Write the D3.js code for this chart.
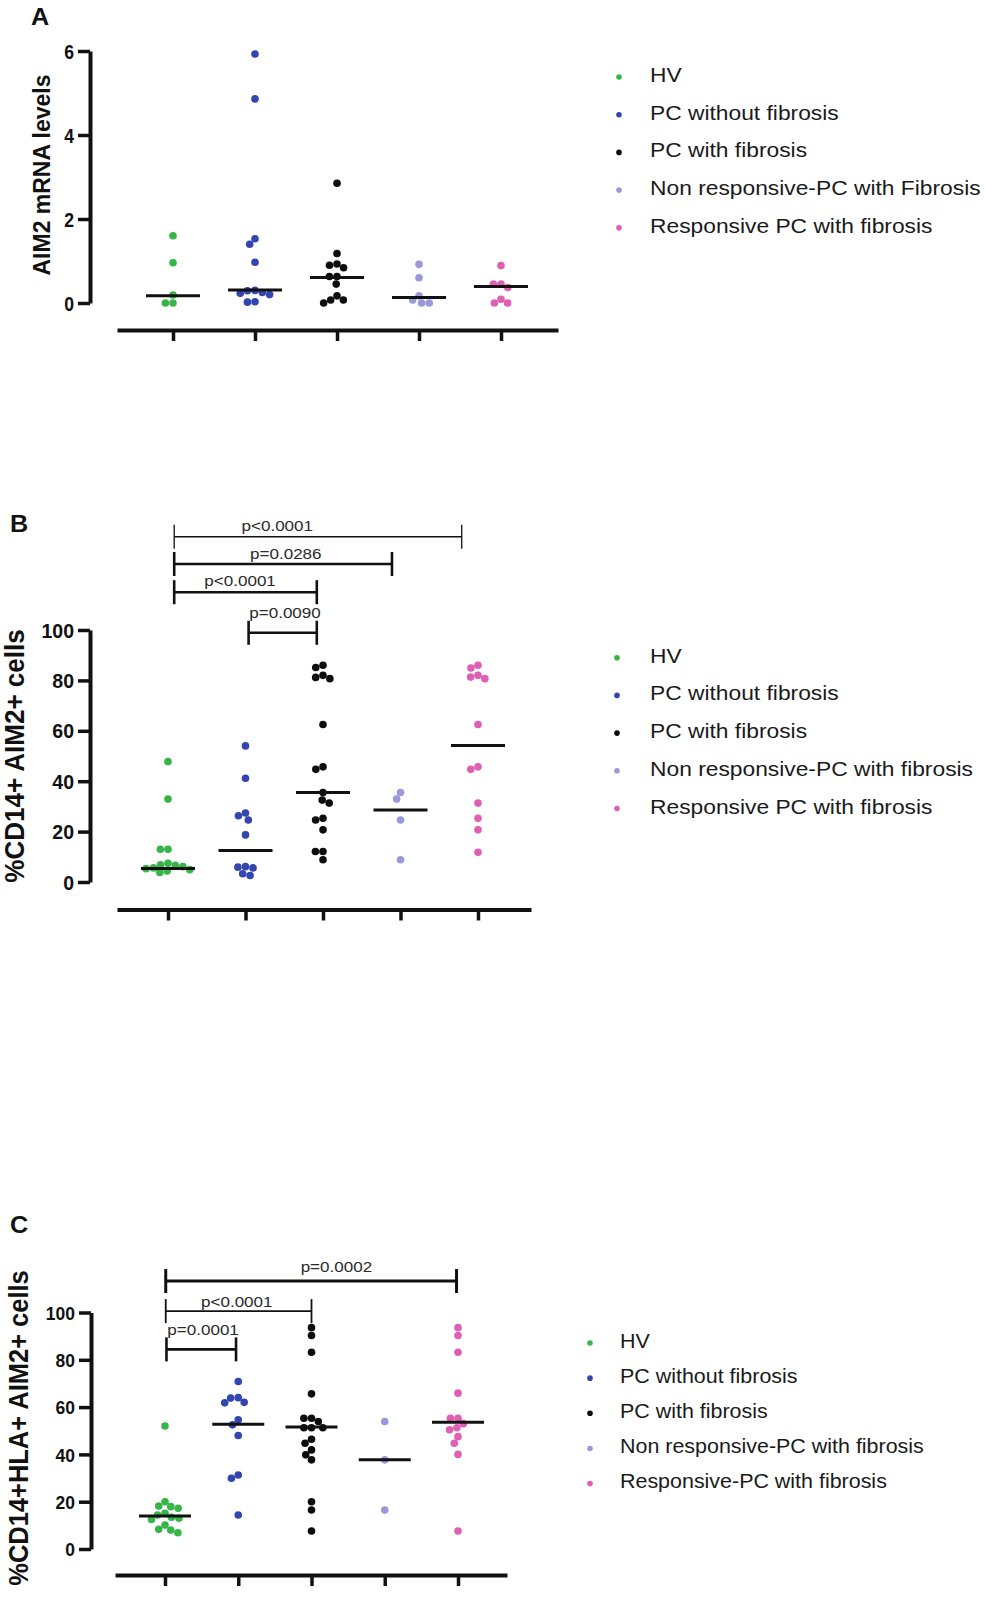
<!DOCTYPE html>
<html>
<head>
<meta charset="utf-8">
<script src="https://cdn.jsdelivr.net/npm/d3@7"></script>
<style>
  body { margin: 0; background: #fff; }
  svg { display: block; }
  text { font-family: "Liberation Sans", Arial, sans-serif; }
</style>
</head>
<body>
<div id="fig"></div>
<script>
// groups and legend texts (each panel words them slightly differently)
const legendA = ["HV", "PC without fibrosis", "PC with fibrosis", "Non responsive-PC with Fibrosis", "Responsive PC with fibrosis"];
const legendB = ["HV", "PC without fibrosis", "PC with fibrosis", "Non responsive-PC with fibrosis", "Responsive PC with fibrosis"];
const legendC = ["HV", "PC without fibrosis", "PC with fibrosis", "Non responsive-PC with fibrosis", "Responsive-PC with fibrosis"];
const colors = ["#37b548", "#3346b0", "#0d0d0d", "#9c98dc", "#de5fb4"];

// A: AIM2 mRNA levels
const valuesA = [
  [1.6, 0.96, 0.19, 0.0, 0.0],
  [5.93, 4.86, 1.53, 1.4, 0.97, 0.3, 0.29, 0.25, 0.23, 0.2, 0.03, 0.02],
  [2.85, 1.18, 0.93, 0.9, 0.84, 0.63, 0.63, 0.45, 0.17, 0.07, 0.07, 0.0],
  [0.92, 0.6, 0.17, 0.07, 0.0, 0.0],
  [0.89, 0.45, 0.45, 0.37, 0.09, 0.0, 0.0]
];
const mediansA = [0.17, 0.31, 0.61, 0.13, 0.39];
const ticksA = [0, 2, 4, 6];

// B: %CD14+ AIM2+ cells
const valuesB = [
  [47.8, 32.9, 13, 13, 7.4, 6.8, 6.6, 6.1, 5.6, 5.3, 4.9, 4.4, 3.8],
  [54, 41.2, 27.4, 26.3, 24.6, 18.7, 6.1, 5.9, 5.6, 3.3, 2.6],
  [86, 85.1, 82, 81.2, 80.7, 62.5, 45.7, 44.7, 35.5, 32.5, 31.3, 25.3, 24.6, 20.7, 12.1, 12.1, 8.8],
  [35.5, 32.9, 24.6, 8.8],
  [86, 84.9, 82, 81.3, 80.7, 62.5, 45.7, 44.7, 31.3, 25.3, 20.7, 11.8]
];
const mediansB = [5.4, 12.5, 35.5, 28.6, 54.2];
const ticksB = [0, 20, 40, 60, 80, 100];
const bracketsB = [
  {from: 0.08, to: 3.79, level: 137, label: "p<0.0001", labelAt: 1.41, labelLevel: 139.3},
  {from: 0.08, to: 2.89, level: 126.2, label: "p=0.0286", labelAt: 1.52, labelLevel: 128.2},
  {from: 0.08, to: 1.92, level: 115, label: "p<0.0001", labelAt: 0.93, labelLevel: 117.6},
  {from: 1.04, to: 1.92, level: 98.9, label: "p=0.0090", labelAt: 1.51, labelLevel: 104.6}
];

// C: %CD14+HLA+ AIM2+ cells
const valuesC = [
  [52, 20, 18.2, 17.9, 17.2, 15.1, 14.4, 13.4, 13, 12.5, 10.1, 8.3, 8, 6.9],
  [70.8, 64, 63.8, 62, 61.8, 54.6, 52.5, 48, 31.3, 29.9, 14.4],
  [93.6, 90.3, 83.2, 65.6, 55.3, 55.3, 53.9, 51.3, 51.3, 51.3, 46.4, 44.7, 41.9, 39.8, 37.7, 20, 16.5, 7.6],
  [53.9, 37.7, 16.5],
  [93.6, 90.3, 83.2, 65.9, 55.3, 55.3, 53, 51.3, 50.4, 47.5, 44.7, 40, 7.6]
];
const mediansC = [14, 52.7, 51.6, 37.7, 53.6];
const ticksC = [0, 20, 40, 60, 80, 100];
const bracketsC = [
  {from: 0.01, to: 3.98, level: 113.3, label: "p=0.0002", labelAt: 2.34, labelLevel: 117.3},
  {from: 0.01, to: 2.0, level: 100.6, label: "p<0.0001", labelAt: 0.98, labelLevel: 102.5},
  {from: 0.02, to: 0.97, level: 84.4, label: "p=0.0001", labelAt: 0.52, labelLevel: 90.5}
];

// ---------------------------------------------------------------
const W = 985, H = 1599;
const FONT = '"Liberation Sans", Arial, sans-serif';
const svg = d3.select("#fig").append("svg")
  .attr("width", W).attr("height", H);

const R = 3.8, D = 7.6;   // dot radius, collision distance
const SX = 1.12;           // the figure is a bit stretched sideways

// place text, stretched horizontally like the source image
function stretchText(g, x, y, str, size, opts = {}) {
  const t = g.append("g")
    .attr("transform", `translate(${x},${y}) scale(${opts.sx || SX},1)` + (opts.rotate ? " rotate(-90)" : ""))
    .append("text")
    .attr("font-family", FONT)
    .attr("text-anchor", opts.anchor || "start")
    .attr("font-size", size)
    .attr("font-weight", opts.bold ? "bold" : "normal")
    .attr("fill", opts.fill || "#111")
    .text(str);
  if (opts.dy) t.attr("dy", opts.dy);
  return t;
}

// simple beeswarm: each dot goes as close to the centre as it can without overlap
function swarm(vals, y) {
  const pts = vals.map(v => ({v: v, y: y(v)})).sort((a, b) => a.y - b.y);
  const placed = [];
  pts.forEach(p => {
    const blocks = placed.filter(q => Math.abs(q.y - p.y) < D).map(q => {
      const w = Math.sqrt(D * D - (q.y - p.y) ** 2);
      return [q.dx - w, q.dx + w];
    });
    const cands = [0].concat(blocks.flat()).sort((a, b) => Math.abs(a) - Math.abs(b) || a - b);
    p.dx = cands.find(c => blocks.every(b => c <= b[0] + 1e-6 || c >= b[1] - 1e-6));
    placed.push(p);
  });
  return pts;
}

function drawPanel(c) {
  const g = svg.append("g");
  const y = d3.scaleLinear().domain(c.yDomain).range(c.yRange);
  const x = d3.scaleLinear().domain([0, 4]).range(c.cats);

  // panel letter
  stretchText(g, c.letterPos[0], c.letterPos[1], c.letter, 24, {bold: true, sx: 1.05});

  // y axis
  const ya = g.append("g")
    .attr("transform", `translate(${c.axisX},0)`)
    .call(d3.axisLeft(y).tickValues(c.ticks).tickSize(12).tickSizeOuter(0));
  ya.select(".domain").attr("stroke", "#111").attr("stroke-width", 4);
  ya.selectAll(".tick line").attr("stroke", "#111").attr("stroke-width", 3.5);
  ya.selectAll(".tick text").remove();
  ya.selectAll(".tick").each(function(d) {
    stretchText(d3.select(this), -16, 0, d, c.tickFont, {bold: true, anchor: "end", dy: "0.36em", sx: c.tickSX});
  });

  // y label
  stretchText(g, c.yLabelPos[0], c.yLabelPos[1], c.yLabel, c.yLabelSize,
    {bold: true, anchor: "middle", rotate: true, sx: 1.08});

  // x axis: a long bar with category ticks, no labels
  const xa = x.copy().domain([x.invert(c.xAxis[0]), x.invert(c.xAxis[1])]).range(c.xAxis);
  const xg = g.append("g")
    .attr("transform", `translate(0,${c.xAxisY})`)
    .call(d3.axisBottom(xa).tickValues([0, 1, 2, 3, 4]).tickFormat("").tickSize(11).tickSizeOuter(0));
  xg.select(".domain").attr("stroke", "#111").attr("stroke-width", 4);
  xg.selectAll(".tick line").attr("stroke", "#111").attr("stroke-width", 3.5);

  // dots
  c.values.forEach((vals, i) => {
    g.append("g").selectAll("circle")
      .data(swarm(vals, y))
      .join("circle")
      .attr("cx", d => x(i) + d.dx)
      .attr("cy", d => d.y)
      .attr("r", R)
      .attr("fill", colors[i]);
  });

  // median lines
  g.append("g").selectAll("line")
    .data(c.medians)
    .join("line")
    .attr("x1", (d, i) => x(i) - c.medW / 2)
    .attr("x2", (d, i) => x(i) + c.medW / 2)
    .attr("y1", d => y(d))
    .attr("y2", d => y(d))
    .attr("stroke", "#111")
    .attr("stroke-width", 3);

  // significance brackets
  c.brackets.forEach((b, i) => {
    const bg = g.append("g").attr("stroke", "#111").attr("stroke-width", c.bracketWidths[i]);
    const yy = y(b.level);
    bg.append("line").attr("x1", x(b.from)).attr("x2", x(b.to)).attr("y1", yy).attr("y2", yy);
    [b.from, b.to].forEach(e => {
      bg.append("line").attr("x1", x(e)).attr("x2", x(e)).attr("y1", yy - 12).attr("y2", yy + 12);
    });
    stretchText(g, x(b.labelAt), y(b.labelLevel), b.label, 15.5, {anchor: "middle", fill: "#2a2a2a", sx: 1.1});
  });

  // legend
  const lg = g.append("g");
  c.legend.forEach((name, i) => {
    const cy = c.legendPos.y0 + i * c.legendPos.dy;
    lg.append("circle").attr("cx", c.legendPos.mx).attr("cy", cy + 2).attr("r", 2.8).attr("fill", colors[i]);
    stretchText(lg, c.legendPos.tx, cy, name, c.legendPos.size, {anchor: "start", dy: "0.35em", fill: "#1a1a1a", sx: c.legendPos.sx});
  });
}

drawPanel({
  letter: "A", letterPos: [31, 25],
  values: valuesA, medians: mediansA, ticks: ticksA, legend: legendA, brackets: [], bracketWidths: [],
  yLabel: "AIM2 mRNA levels", yLabelPos: [50, 175], yLabelSize: 23,
  yDomain: [0, 6], yRange: [303, 51], axisX: 90, tickFont: 20, tickSX: 0.88,
  cats: [173, 501], xAxis: [117, 558], xAxisY: 330, medW: 54,
  legendPos: {mx: 619, tx: 650, y0: 75, dy: 37.7, size: 20, sx: 1.14}
});

drawPanel({
  letter: "B", letterPos: [10, 532],
  values: valuesB, medians: mediansB, ticks: ticksB, legend: legendB, brackets: bracketsB,
  bracketWidths: [1.3, 2.6, 2.6, 2.6],
  yLabel: "%CD14+ AIM2+ cells", yLabelPos: [24, 756], yLabelSize: 26,
  yDomain: [0, 100], yRange: [882, 630], axisX: 90, tickFont: 19.5, tickSX: 1.0,
  cats: [168, 478], xAxis: [117, 531], xAxisY: 909.5, medW: 54,
  legendPos: {mx: 617, tx: 650, y0: 655.7, dy: 37.7, size: 20, sx: 1.14}
});

drawPanel({
  letter: "C", letterPos: [10, 1233],
  values: valuesC, medians: mediansC, ticks: ticksC, legend: legendC, brackets: bracketsC,
  bracketWidths: [3, 1.8, 2.6],
  yLabel: "%CD14+HLA+ AIM2+ cells", yLabelPos: [28, 1428], yLabelSize: 25.5,
  yDomain: [0, 100], yRange: [1549, 1312.5], axisX: 91, tickFont: 19, tickSX: 0.92,
  cats: [165, 458], xAxis: [115, 507], xAxisY: 1575, medW: 52,
  legendPos: {mx: 590, tx: 620, y0: 1341, dy: 35.15, size: 19.5, sx: 1.1}
});
</script>
</body>
</html>
